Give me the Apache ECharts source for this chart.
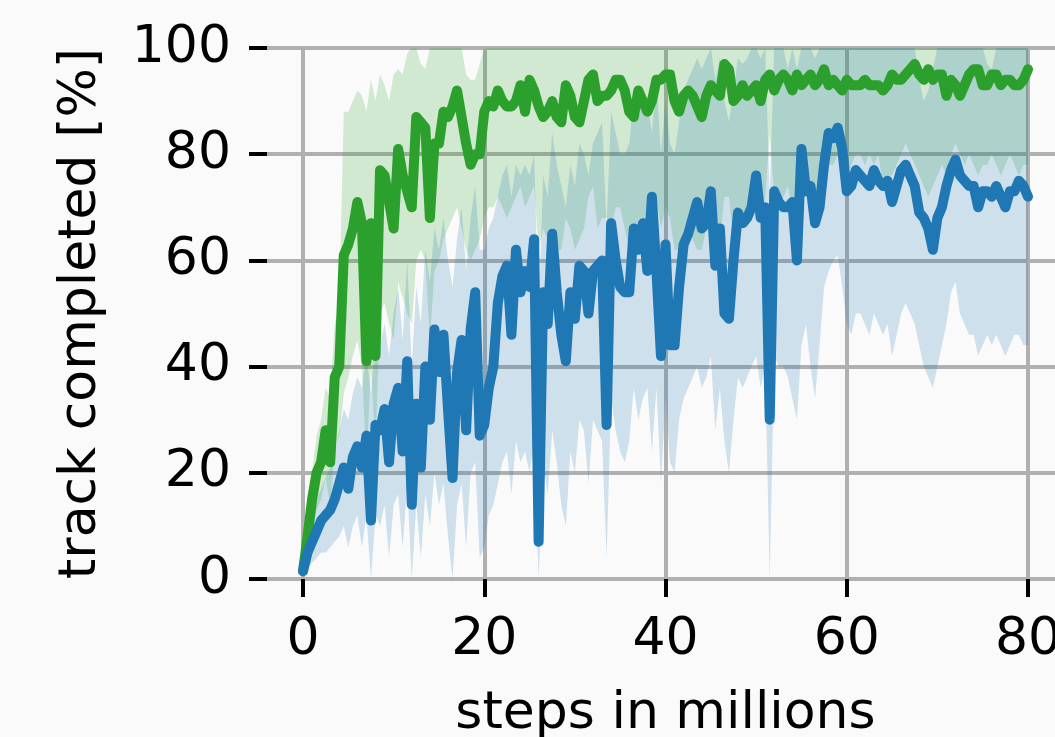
<!DOCTYPE html>
<html><head><meta charset="utf-8">
<script src="https://cdn.jsdelivr.net/npm/echarts@6/dist/echarts.min.js"></script>
<style>html,body{margin:0;padding:0;background:#fafafa}#c{width:1055px;height:737px}</style>
</head><body><div id="c"></div><script>
// x positions (steps in millions)
const steps = [0,0.5,1,1.5,2,2.5,3,3.5,4,4.5,5,5.5,6,6.5,7,7.5,8,8.5,9,9.5,
10,10.5,11,11.5,12,12.5,13,13.5,14,14.5,15,15.5,16,16.5,17,17.5,18,18.5,19,19.5,
20,20.5,21,21.5,22,22.5,23,23.5,24,24.5,25,25.5,26,26.5,27,27.5,28,28.5,29,29.5,
30,30.5,31,31.5,32,32.5,33,33.5,34,34.5,35,35.5,36,36.5,37,37.5,38,38.5,39,39.5,
40,40.5,41,41.5,42,42.5,43,43.5,44,44.5,45,45.5,46,46.5,47,47.5,48,48.5,49,49.5,
50,50.5,51,51.5,52,52.5,53,53.5,54,54.5,55,55.5,56,56.5,57,57.5,58,58.5,59,59.5,
60,60.5,61,61.5,62,62.5,63,63.5,64,64.5,65,65.5,66,66.5,67,67.5,68,68.5,69,69.5,
70,70.5,71,71.5,72,72.5,73,73.5,74,74.5,75,75.5,76,76.5,77,77.5,78,78.5,79,79.5,80];

// green run: mean, upper and lower band
const greenMean = [1.5,8,15,20,22,28,22,38,40,61,
63,66,71,67,41,67,42,77,76,71,
66,81,76,73,70,87,86,85,68,82,
82,88,87,89,92,87,82,78,80,80,
88,90,89,92,90,89,89,90,93,88,
94,92,89,87,88,90,87,86,93,91,
87,86,90,94,95,90,91,91,92,94,
94,92,88,87,92,90,88,90,94,94,
95,95,90,88,91,92,91,89,87,91,
93,92,91,97,96,90,91,93,91,92,
93,90,94,95,92,94,95,94,92,95,
93,94,95,93,94,96,93,94,93,92,
94,93,93,93,94,93,93,93,92,93,
95,94,94,95,96,97,95,94,96,94,
95,95,91,94,93,91,93,95,96,96,
93,93,95,95,93,94,94,93,93,94,
96];
const greenUpper = [3,12,20,27,30,36,34,48,52,88,
88,90,92,91,88,94,90,95,93,90,
95,96,95,99,101,102,97,96,102,102,
102,102,102,102,102,102,95,94,94,97,
102,102,102,102,102,102,102,102,102,102,
102,102,102,102,102,102,102,102,102,102,
102,102,102,102,102,102,102,102,102,102,
102,102,102,102,102,102,102,102,102,102,
102,102,102,102,102,102,102,102,102,102,
102,102,102,102,102,102,102,102,102,102,
102,102,102,102,102,102,102,102,102,102,
102,102,102,102,102,102,102,102,102,102,
102,102,102,102,102,102,102,102,102,102,
102,102,102,102,102,102,102,102,102,102,
102,102,102,102,102,102,102,102,102,102,
102,102,102,102,102,102,102,102,102,102,
102];
const greenLower = [0,4,9,13,15,19,14,25,27,35,
38,42,45,40,22,40,25,50,52,48,
45,56,53,50,48,60,62,60,45,58,
60,64,66,68,70,66,62,60,62,64,
68,70,70,72,70,68,70,72,74,70,
72,74,62,66,64,66,62,62,68,66,
62,64,66,72,74,66,68,68,66,70,
70,66,62,62,68,66,64,66,72,66,
70,68,62,62,66,68,64,62,62,66,
70,66,64,72,72,64,66,68,66,68,
70,68,72,84,72,70,72,74,70,66,
74,72,72,70,72,76,78,78,80,78,
76,78,80,80,78,80,78,80,74,76,
76,78,80,82,80,78,76,74,72,74,
76,78,76,80,82,80,78,80,78,76,
78,78,80,78,76,78,80,78,76,78,
78];

// blue run: mean, upper and lower band
const blueMean = [1.5,5,7,9,11,12,13,15,18,21,
17,23,25,21,27,11,29,28,32,22,
33,36,24,41,14,33,21,40,30,47,
39,46,32,19,39,45,28,47,54,27,
29,36,40,52,57,59,46,62,54,58,
55,64,7,54,48,65,54,46,41,54,
49,59,58,50,58,59,60,29,67,60,
55,54,54,66,62,67,58,72,58,42,
63,44,44,55,63,65,68,71,66,67,
73,59,66,50,49,60,69,67,68,70,
76,68,70,30,73,71,70,70,71,60,
81,73,74,67,70,78,84,83,85,81,
73,74,77,76,75,74,77,75,74,75,
71,74,77,78,76,74,69,68,66,62,
68,70,74,77,79,76,75,74,74,70,
73,73,72,74,72,70,73,73,75,74,
72];
const blueUpper = [3,8,12,15,17,19,21,24,28,32,
30,35,38,36,42,35,45,44,48,42,
50,55,45,60,40,55,48,62,56,66,
62,68,60,55,64,70,58,68,74,62,
62,66,68,72,76,78,72,78,76,78,
76,80,50,76,72,84,78,74,70,78,
74,82,80,76,82,84,86,66,88,84,
80,80,82,90,88,90,90,84,94,80,
90,82,80,86,92,94,96,98,96,98,
100,94,98,90,86,92,98,97,98,100,
102,98,100,72,102,100,100,96,100,96,
102,100,102,98,100,102,102,102,102,102,
100,102,102,102,100,102,102,102,100,102,
100,102,102,102,102,102,94,90,92,96,
100,102,102,102,102,102,102,100,102,100,
102,97,96,102,102,100,102,102,102,102,
102];
const blueLower = [0,2,3,4,5,5,6,7,8,10,
6,10,12,6,12,0,12,10,14,4,
14,16,6,18,0,14,4,16,10,20,
14,18,8,0,14,18,6,20,22,4,
6,12,14,18,22,24,16,26,22,24,
20,26,0,22,16,28,22,14,10,24,
20,30,28,18,30,28,26,4,34,28,
24,22,26,36,30,34,36,24,36,18,
34,22,20,30,34,36,38,40,36,38,
42,28,36,26,20,30,38,36,38,40,
42,36,40,0,42,40,40,38,34,30,
44,48,40,34,44,55,58,60,61,55,
48,46,50,50,48,46,50,48,46,48,
42,46,50,52,50,48,44,40,38,36,
40,44,48,54,56,50,48,46,46,42,
44,46,44,46,44,42,44,46,46,44,
44];

const xTicks = [0, 20, 40, 60, 80];
const yTicks = [0, 20, 40, 60, 80, 100];

const FONT = 'DejaVu Sans';
const GRIDC = '#b0b0b0';
const GREEN = '#2ca02c', BLUE = '#1f77b4';
const GREEN_FILL = 'rgba(44,160,44,0.2)', BLUE_FILL = 'rgba(31,119,180,0.2)';

const pairs = arr => steps.map((x, i) => [x, arr[i]]);

function band(lo, hi, fill) {
  return {
    type:'custom', xAxisIndex:1, yAxisIndex:1, silent:true, z:1,
    data: steps.map((x, i) => [x, lo[i], hi[i]]),
    encode:{x:0, y:[1, 2]},
    renderItem: function (params, api) {
      if (params.dataIndex !== 0) return null;
      const top = [], bot = [];
      for (let i = 0; i < steps.length; i++) {
        top.push(api.coord([steps[i], Math.min(hi[i], 100)]));
        bot.push(api.coord([steps[i], Math.max(lo[i], 0)]));
      }
      return {type:'polygon', shape:{points: top.concat(bot.reverse())}, style:{fill: fill}};
    }
  };
}

const chart = echarts.init(document.getElementById('c'), null, {renderer:'canvas'});
chart.setOption({
  backgroundColor:'#fafafa',
  animation:false,
  grid:[
    {left:267, right:-9, top:48, bottom:158, outerBoundsMode:'none', containLabel:false},
    {left:303, right:27, top:48, bottom:158, outerBoundsMode:'none', containLabel:false}
  ],
  xAxis:[
    {gridIndex:0, type:'value', min:0, max:1, show:false},
    {gridIndex:1, type:'value', min:xTicks[0], max:xTicks[xTicks.length-1], interval:20,
     name:'steps in millions', nameLocation:'middle', nameGap:109,
     nameTextStyle:{fontFamily:FONT, fontSize:52, color:'#000'},
     axisLine:{show:false},
     axisTick:{show:true, inside:false, length:18, lineStyle:{color:'#000', width:4}},
     axisLabel:{margin:35, fontFamily:FONT, fontSize:52, color:'#000', showMinLabel:true, showMaxLabel:true},
     splitLine:{show:true, lineStyle:{color:GRIDC, width:4}}}
  ],
  yAxis:[
    {gridIndex:0, type:'value', min:yTicks[0], max:yTicks[yTicks.length-1], interval:20,
     name:'track completed [%]', nameLocation:'middle', nameGap:160,
     nameTextStyle:{fontFamily:FONT, fontSize:52, color:'#000'},
     axisLine:{show:false},
     axisTick:{show:true, inside:false, length:18, lineStyle:{color:'#000', width:4}},
     axisLabel:{margin:36, fontFamily:FONT, fontSize:52, color:'#000', showMinLabel:true, showMaxLabel:true},
     splitLine:{show:true, lineStyle:{color:GRIDC, width:4}}},
    {gridIndex:1, type:'value', min:0, max:100, show:false}
  ],
  series:[
    band(greenLower, greenUpper, GREEN_FILL),
    band(blueLower, blueUpper, BLUE_FILL),
    {type:'line', xAxisIndex:1, yAxisIndex:1, data:pairs(greenMean), showSymbol:false, symbol:'none',
     lineStyle:{color:GREEN, width:10, join:'round', cap:'round'}, z:3},
    {type:'line', xAxisIndex:1, yAxisIndex:1, data:pairs(blueMean), showSymbol:false, symbol:'none',
     lineStyle:{color:BLUE, width:10, join:'round', cap:'round'}, z:4}
  ]
});
</script></body></html>
